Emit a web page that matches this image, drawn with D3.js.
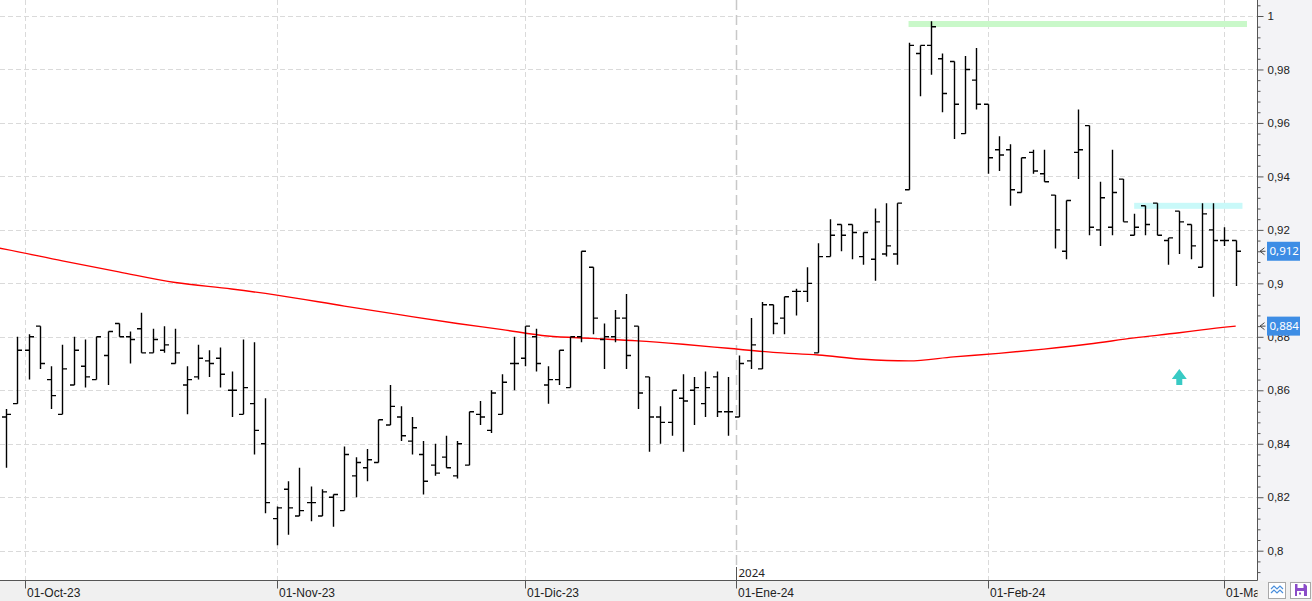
<!DOCTYPE html>
<html>
<head>
<meta charset="utf-8">
<script src="https://cdn.jsdelivr.net/npm/d3@7"></script>
<style>
body { margin:0; background:#fff; font-family:"Noto Sans","DejaVu Sans",sans-serif; }
svg { display:block; }
</style>
</head>
<body>
<script>
// trading days shown, by month
const months = [
    ["2023-09", [28,29]],
    ["2023-10", [2,3,4,5,6,9,10,11,12,13,16,17,18,19,20,23,24,25,26,27,30,31]],
    ["2023-11", [1,2,3,6,7,8,9,10,13,14,15,16,17,20,21,22,23,24,27,28,29,30]],
    ["2023-12", [1,4,5,6,7,8,11,12,13,14,15,18,19,20,21,22,27,28,29]],
    ["2024-01", [2,3,4,5,8,9,10,11,12,15,16,17,18,19,22,23,24,25,26,29,30,31]],
    ["2024-02", [1,2,5,6,7,8,9,12,13,14,15,16,19,20,21,22,23,26,27,28,29]],
    ["2024-03", [1,4]]
];

const opens = [
    .850,.855,.875,.884,.864,.851,.862,.869,.864,.873,
    .885,.880,.883,.874,.875,.870,.862,.865,.871,.872,
    .860,.851,.855,.840,.812,.823,.813,.818,.813,.820,
    .815,.828,.831,.833,.847,.850,.841,.836,.832,.835,
    .828,.832,.851,.845,.851,.870,.872,.880,.862,.864,
    .861,.880,.906,.879,.880,.887,.884,.865,.850,.848,
    .857,.860,.855,.865,.852,.850,.871,.868,.892,.887,
    .897,.897,.874,.910,.922,.922,.910,.909,.911,.911,
    .935,.986,.989,.984,.983,.956,.976,.967,.950,.950,
    .934,.949,.941,.933,.912,.949,.959,.920,.921,.939,
    .918,.929,.930,.916,.927,.922,.906,.920,.916,.916
];
const highs = [
    .853,.880,.881,.884,.869,.877,.880,.879,.880,.882,
    .885,.882,.889,.883,.884,.883,.869,.877,.875,.876,
    .867,.879,.878,.857,.8165,.826,.831,.824,.823,.821,
    .839,.835,.838,.849,.862,.854,.850,.841,.840,.843,
    .841,.852,.856,.860,.866,.880,.884,.883,.869,.875,
    .880,.912,.906,.885,.890,.896,.884,.865,.854,.860,
    .866,.865,.867,.867,.865,.873,.887,.893,.892,.895,
    .898,.906,.915,.924,.922,.922,.919,.928,.930,.930,
    .990,.989,.998,.986,.983,.985,.988,.967,.955,.952,
    .947,.950,.950,.933,.931,.965,.959,.938,.950,.939,
    .926,.929,.930,.917,.927,.922,.930,.930,.921,.916
];
const lows = [
    .831,.855,.864,.868,.853,.851,.862,.861,.864,.862,
    .880,.870,.874,.874,.874,.870,.851,.864,.865,.861,
    .850,.851,.836,.814,.802,.806,.813,.811,.813,.809,
    .815,.820,.826,.833,.847,.841,.836,.821,.828,.831,
    .827,.832,.847,.844,.851,.860,.869,.867,.855,.862,
    .861,.878,.881,.868,.878,.868,.853,.837,.840,.843,
    .837,.847,.850,.850,.843,.850,.868,.868,.881,.881,
    .888,.893,.874,.910,.912,.909,.907,.901,.910,.907,
    .935,.970,.978,.964,.954,.956,.965,.941,.942,.929,
    .934,.941,.938,.913,.909,.939,.918,.914,.918,.923,
    .918,.918,.918,.907,.911,.909,.906,.895,.914,.899
];
const closes = [
    .851,.875,.880,.870,.858,.868,.875,.865,.880,.882,
    .880,.879,.874,.879,.877,.874,.864,.872,.870,.866,
    .860,.861,.845,.818,.816,.816,.815,.818,.822,.821,
    .836,.833,.834,.849,.854,.843,.846,.826,.829,.831,
    .840,.852,.850,.859,.863,.870,.884,.870,.864,.875,
    .880,.912,.887,.880,.887,.873,.859,.850,.848,.860,
    .856,.861,.861,.852,.852,.870,.877,.892,.885,.895,
    .897,.900,.910,.918,.918,.919,.919,.923,.914,.930,
    .989,.989,.996,.971,.967,.980,.967,.947,.948,.935,
    .947,.942,.938,.920,.931,.950,.921,.932,.934,.923,
    .921,.922,.918,.917,.923,.914,.926,.916,.916,.912
];

// moving average (red), read at some bars (index -1 = day before first bar)
const maIdx = [-1,0,5,10,15,20,24,30,35,40,44,48,52,56,60,64,68,72,76,80,84,88,92,96,100,104,106,109];
const maVal = [.9135,.9127,.9084,.9043,.9003,.8979,.8956,.8915,.8882,.885,.8827,.8803,.8794,.8785,.8772,.8757,
               .8742,.8732,.8716,.871,.8725,.8738,.8754,.8773,.8796,.8815,.8826,.884];

const tickDates = ["2023-10-01","2023-11-01","2023-12-01","2024-01-01","2024-02-01","2024-03-01"];
const tickLabels = ["01-Oct-23","01-Nov-23","01-Dic-23","01-Ene-24","01-Feb-24","01-Mar-24"];
const yearDate = "2024-01-01";
const yearLabel = "2024";
const yTicks = [0.8,0.82,0.84,0.86,0.88,0.9,0.92,0.94,0.96,0.98,1];

// horizontal levels drawn as bands
const levels = [
    {value:0.997, from:80, to:110, color:"#c9f8c9"},
    {value:0.929, from:100, to:109.6, color:"#c9f9f9"}
];
const signalIdx = 104;
const signalVal = 0.865;

const outerWidth = 1312;
const outerHeight = 601;
const plotW = 1257.5;
const plotH = 580.5;

const parse = d3.timeParse("%Y-%m-%d");
const dates = months.flatMap(([m, days]) => days.map(d => parse(m + "-" + String(d).padStart(2, "0"))));
const data = dates.map((d, i) => ({date:d, open:opens[i], high:highs[i], low:lows[i], close:closes[i]}));

// index of a calendar date on the trading-day axis (in between days is interpolated)
function dateIndex(t) {
    const i = d3.bisectLeft(dates, t);
    if (i < dates.length && +dates[i] === +t) return i;
    const a = dates[i - 1], b = dates[i];
    return i - 1 + (t - a) / (b - a);
}

const fmt = v => String(+v.toFixed(3)).replace(".", ",");

const svg = d3.select("body").append("svg")
    .attr("width", outerWidth)
    .attr("height", outerHeight)
    .style("font-family", '"Noto Sans","DejaVu Sans",sans-serif');

const x = d3.scaleLinear().domain([0, data.length - 1]).range([6, 1235.7]);
const y = d3.scaleLinear().domain([0.8, 1]).range([550.7, 16]);

// backgrounds
svg.append("rect").attr("x", 0).attr("y", 0).attr("width", outerWidth).attr("height", outerHeight).attr("fill", "#f0f0f0");
svg.append("rect").attr("x", plotW).attr("y", 0).attr("width", outerWidth - plotW).attr("height", plotH).attr("fill", "#f3f3f6");
svg.append("rect").attr("x", 0).attr("y", 0).attr("width", plotW).attr("height", plotH).attr("fill", "#fff");

const defs = svg.append("defs");
defs.append("clipPath").attr("id", "plot-clip")
    .append("rect").attr("x", 0).attr("y", 0).attr("width", plotW).attr("height", plotH);
defs.append("clipPath").attr("id", "xlab-clip")
    .append("rect").attr("x", 0).attr("y", -2).attr("width", plotW).attr("height", 30);

const plot = svg.append("g").attr("clip-path", "url(#plot-clip)");

// grid
plot.selectAll(".hgrid")
    .data(yTicks)
    .join("line")
    .attr("class", "hgrid")
    .attr("x1", 0).attr("x2", plotW)
    .attr("y1", d => Math.round(y(d)) + 0.5).attr("y2", d => Math.round(y(d)) + 0.5)
    .attr("stroke", "#dadada")
    .attr("stroke-dasharray", "5,3");

const tickIdx = tickDates.map(d => dateIndex(parse(d)));
const yearIdx = dateIndex(parse(yearDate));

plot.selectAll(".vgrid")
    .data(tickIdx.filter(d => d !== yearIdx))
    .join("line")
    .attr("class", "vgrid")
    .attr("x1", d => Math.round(x(d)) + 0.5).attr("x2", d => Math.round(x(d)) + 0.5)
    .attr("y1", 0).attr("y2", plotH)
    .attr("stroke", "#dadada")
    .attr("stroke-dasharray", "5,3");

// year separator
plot.append("line")
    .attr("x1", Math.round(x(yearIdx)) + 0.5).attr("x2", Math.round(x(yearIdx)) + 0.5)
    .attr("y1", 0).attr("y2", 566)
    .attr("stroke", "#c8c8c8")
    .attr("stroke-width", 1.5)
    .attr("stroke-dasharray", "10,5");
plot.append("line")
    .attr("x1", Math.round(x(yearIdx)) + 0.5).attr("x2", Math.round(x(yearIdx)) + 0.5)
    .attr("y1", 567).attr("y2", plotH)
    .attr("stroke", "#555");
plot.append("text")
    .attr("x", x(yearIdx) + 2)
    .attr("y", 577)
    .attr("font-size", "11.5px")
    .attr("fill", "#222")
    .text(yearLabel);

// level bands
plot.selectAll(".level")
    .data(levels)
    .join("rect")
    .attr("class", "level")
    .attr("x", d => x(d.from))
    .attr("width", d => x(d.to) - x(d.from))
    .attr("y", d => y(d.value) - 3)
    .attr("height", 6)
    .attr("fill", d => d.color);

// moving average
const ma = maIdx.map((i, k) => ({i:i, v:maVal[k]}));
const line = d3.line()
    .x(d => x(d.i))
    .y(d => y(d.v))
    .curve(d3.curveMonotoneX);
plot.append("path")
    .datum(ma)
    .attr("d", line)
    .attr("fill", "none")
    .attr("stroke", "#ff0000")
    .attr("stroke-width", 1.4);

// OHLC bars
plot.selectAll(".bar")
    .data(data)
    .join("path")
    .attr("class", "bar")
    .attr("d", (d, i) => {
        const cx = Math.round(x(i)) + 0.5;
        return `M${cx},${y(d.high)}V${y(d.low)}M${cx - 4.5},${y(d.open)}H${cx}M${cx},${y(d.close)}H${cx + 4.5}`;
    })
    .attr("fill", "none")
    .attr("stroke", "#000")
    .attr("stroke-width", 1.4);

// signal arrow
const ax = x(signalIdx), ay = y(signalVal);
plot.append("path")
    .attr("d", `M${ax},${ay - 8}L${ax + 7.5},${ay + 2}H${ax + 3}V${ay + 8}H${ax - 3}V${ay + 2}H${ax - 7.5}Z`)
    .attr("fill", "#38cac4");

// x axis
const xAxis = d3.axisBottom(x)
    .tickValues(tickIdx)
    .tickFormat((d, i) => tickLabels[i])
    .tickSize(8)
    .tickSizeOuter(0);
const gx = svg.append("g")
    .attr("transform", `translate(0,${plotH})`)
    .call(xAxis);
gx.select(".domain").remove();
gx.attr("clip-path", "url(#xlab-clip)");
gx.selectAll(".tick line").attr("stroke", "#555").attr("transform", "translate(0.5,0)");
gx.selectAll(".tick text")
    .attr("text-anchor", "start")
    .attr("x", 2)
    .attr("y", 8)
    .attr("dy", "0.71em")
    .attr("font-size", "12px")
    .attr("fill", "#222");
gx.selectAll(".tick").attr("transform", d => `translate(${Math.round(x(d))},0)`);

svg.append("line")
    .attr("x1", 0).attr("x2", plotW)
    .attr("y1", plotH).attr("y2", plotH)
    .attr("stroke", "#555");

// y axis (right)
const minorTicks = d3.range(198, 252).filter(k => k % 5 !== 0).map(k => k * 0.004);
const gyMinor = svg.append("g")
    .attr("transform", `translate(${plotW},0)`)
    .call(d3.axisRight(y).tickValues(minorTicks).tickSize(3).tickFormat(""));
gyMinor.select(".domain").remove();
gyMinor.selectAll(".tick line").attr("stroke", "#555");

const gy = svg.append("g")
    .attr("transform", `translate(${plotW},0)`)
    .call(d3.axisRight(y).tickValues(yTicks).tickSize(6).tickPadding(4).tickFormat(fmt));
gy.select(".domain").remove();
gy.selectAll(".tick line").attr("stroke", "#555");
gy.selectAll(".tick text").attr("font-size", "11.5px").attr("fill", "#222");

svg.append("line")
    .attr("x1", plotW).attr("x2", plotW)
    .attr("y1", 0).attr("y2", plotH)
    .attr("stroke", "#555");

// last value labels
const lastLabels = [
    {value: closes[closes.length - 1]},
    {value: maVal[maVal.length - 1]}
];
lastLabels.forEach(d => {
    const ly = y(d.value);
    svg.append("path")
        .attr("d", `M${plotW + 7},${ly - 3.5}L${plotW + 2.5},${ly}L${plotW + 7},${ly + 3.5}M${plotW + 2.5},${ly}H${plotW + 8}`)
        .attr("fill", "none")
        .attr("stroke", "#444");
    svg.append("rect")
        .attr("x", 1267).attr("y", ly - 9.5)
        .attr("width", 33).attr("height", 19)
        .attr("fill", "#3d8de5");
    svg.append("text")
        .attr("x", 1269.5).attr("y", ly)
        .attr("dy", "0.36em")
        .attr("font-size", "11.5px")
        .attr("fill", "#fff")
        .text(fmt(d.value));
});

// small buttons bottom right
svg.append("rect").attr("x", 1268.5).attr("y", 582.5).attr("width", 17).attr("height", 16)
    .attr("fill", "#fff").attr("stroke", "#a8a8a8");
svg.append("path")
    .attr("d", "M1271,589l3,-3l3,3l3,-3l3,3M1271,593l3,-3l3,3l3,-3l3,3")
    .attr("fill", "none").attr("stroke", "#4a8fdc").attr("stroke-width", 1.2);
svg.append("rect").attr("x", 1290.5).attr("y", 582.5).attr("width", 20).attr("height", 16)
    .attr("fill", "#fff").attr("stroke", "#a8a8a8");
svg.append("path")
    .attr("d", "M1295,584h10l2,2v10h-12Z")
    .attr("fill", "#8a4cc8");
svg.append("rect").attr("x", 1297.5).attr("y", 584).attr("width", 6).attr("height", 4).attr("fill", "#fff");
svg.append("rect").attr("x", 1297).attr("y", 591).attr("width", 7).attr("height", 5).attr("fill", "#fff");
svg.append("rect").attr("x", 1299).attr("y", 592.5).attr("width", 2).attr("height", 2).attr("fill", "#8a4cc8");
</script>
</body>
</html>
